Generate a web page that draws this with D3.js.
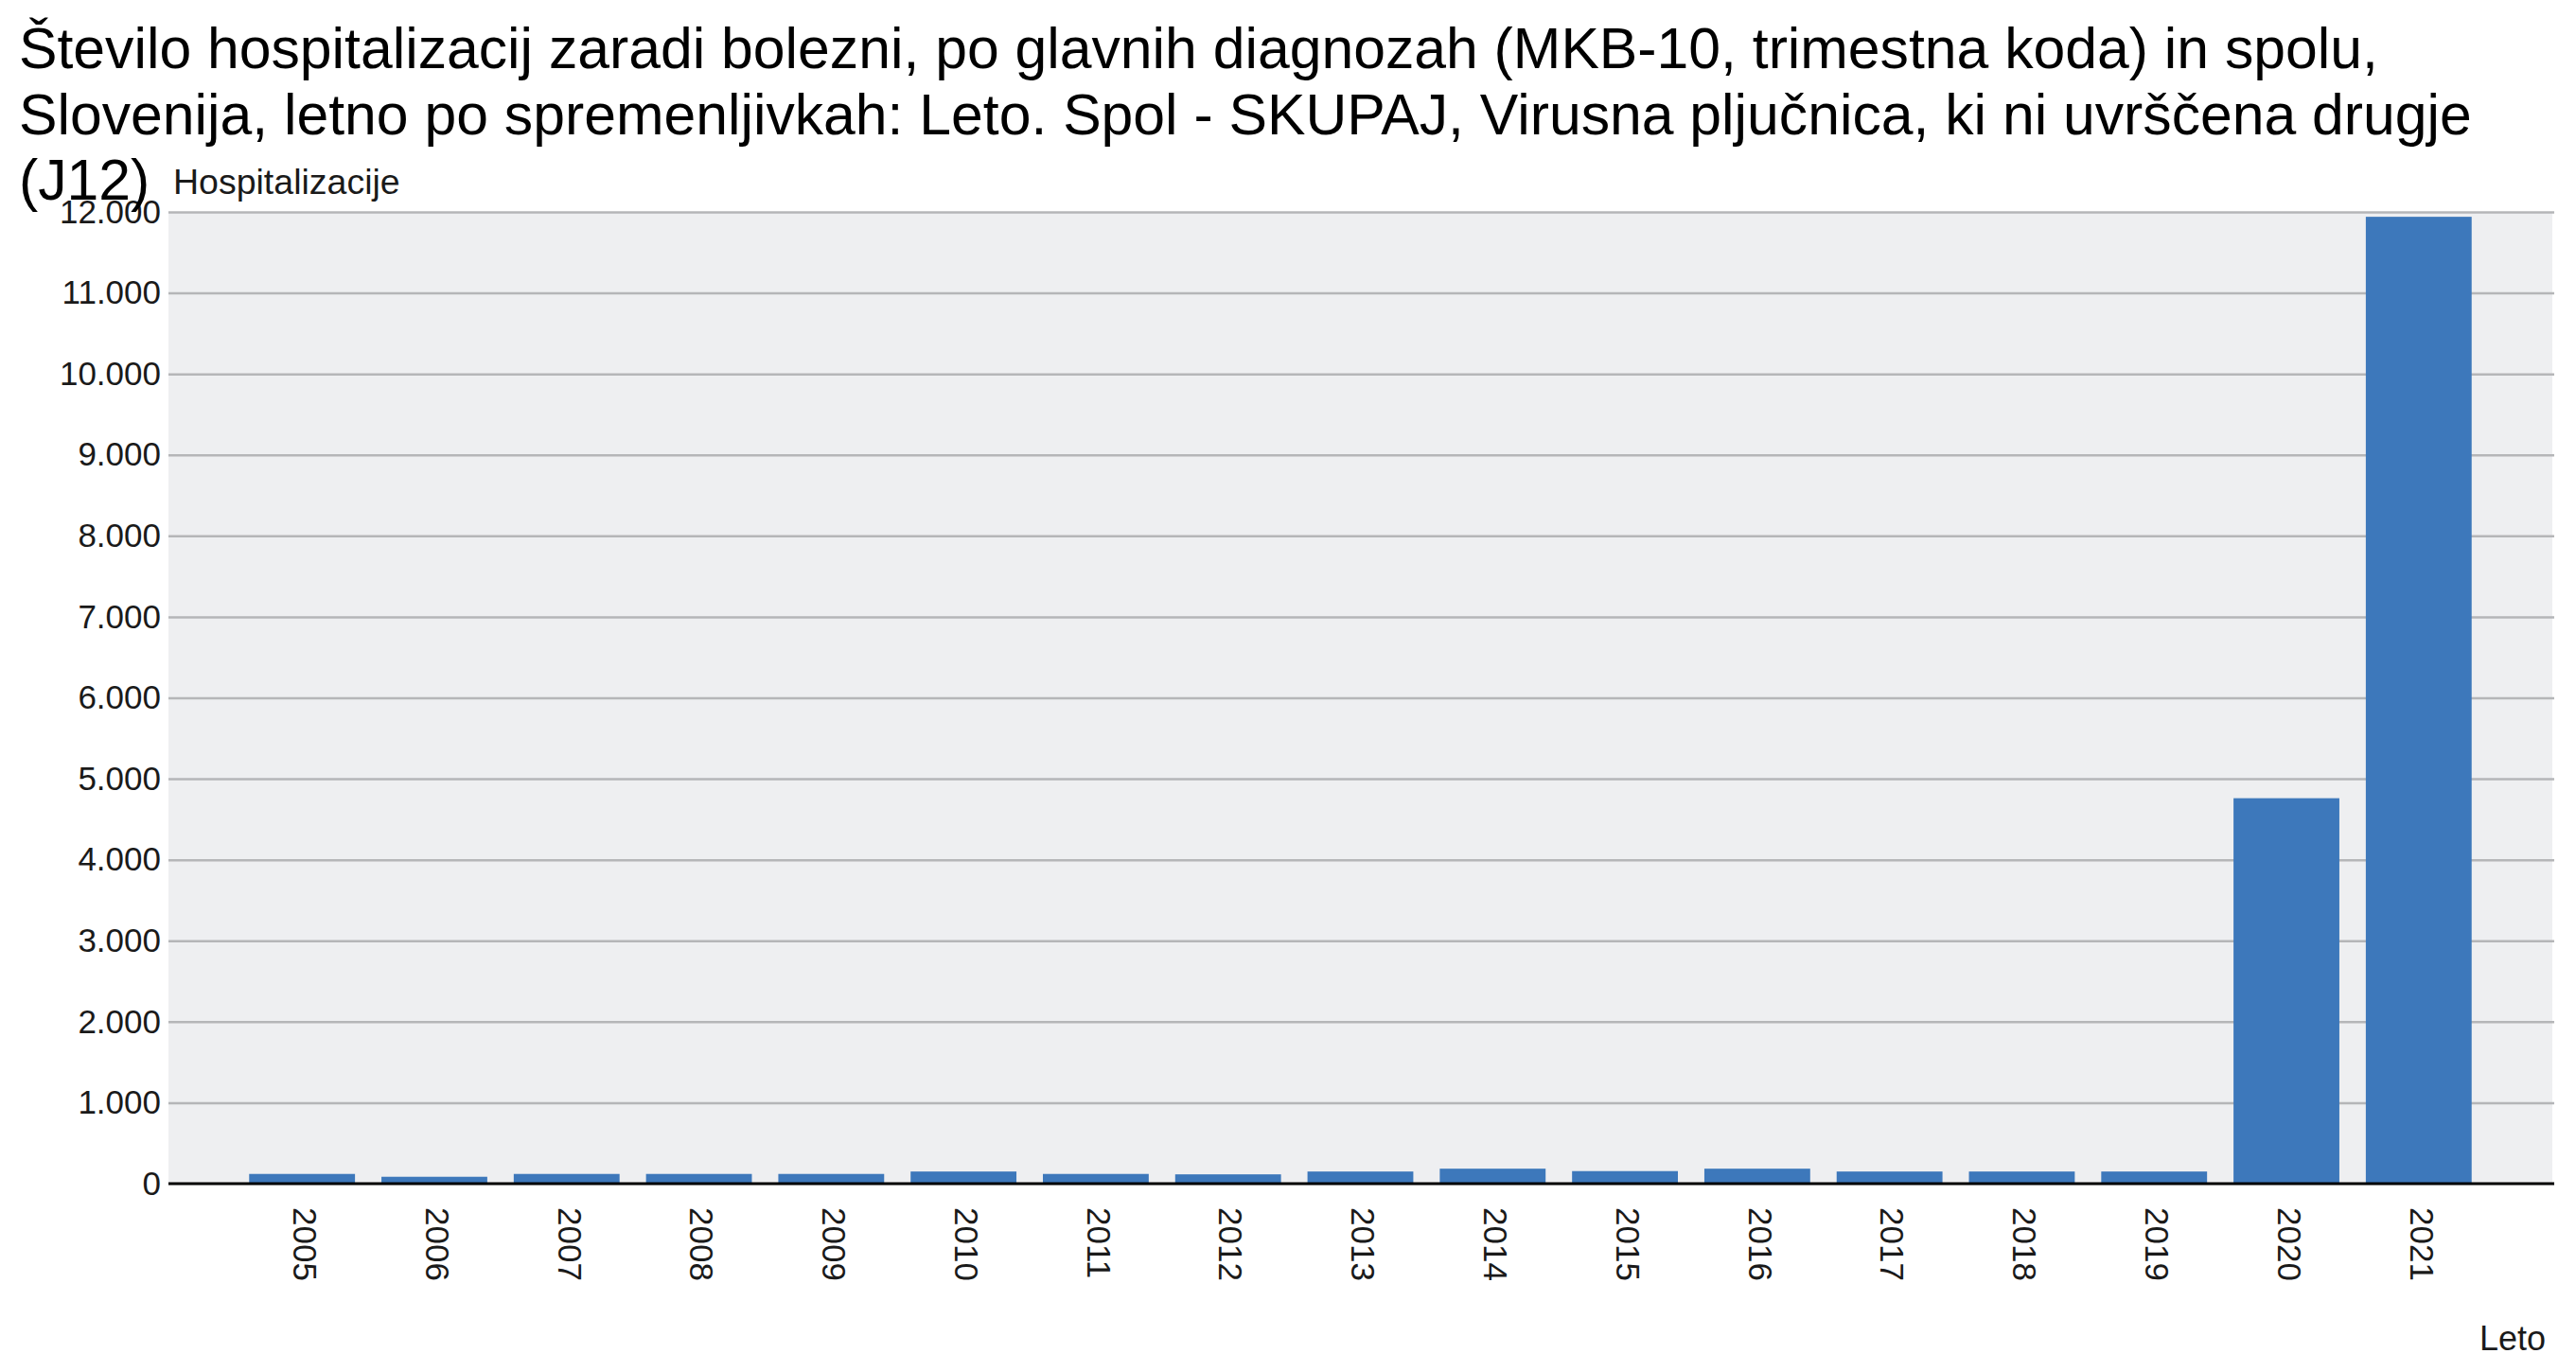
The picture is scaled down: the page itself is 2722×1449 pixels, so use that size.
<!DOCTYPE html>
<html>
<head>
<meta charset="utf-8">
<script src="https://cdn.jsdelivr.net/npm/d3@7"></script>
<style>
  html, body { margin: 0; padding: 0; background: #ffffff; }
  svg { display: block; }
  text { font-family: "Liberation Sans", Arial, sans-serif; }
</style>
</head>
<body>
<svg id="chart" width="2722" height="1449"></svg>
<script>
// ---- Data ----
const years = ["2005","2006","2007","2008","2009","2010","2011","2012","2013","2014","2015","2016","2017","2018","2019","2020","2021"];
const hospitalizations = [120, 85, 120, 120, 120, 150, 120, 115, 150, 185, 155, 185, 150, 150, 150, 4760, 11940];
const yTicks = [0, 1000, 2000, 3000, 4000, 5000, 6000, 7000, 8000, 9000, 10000, 11000, 12000];
const titleLines = [
  "Število hospitalizacij zaradi bolezni, po glavnih diagnozah (MKB-10, trimestna koda) in spolu,",
  "Slovenija, letno po spremenljivkah: Leto. Spol - SKUPAJ, Virusna pljučnica, ki ni uvrščena drugje",
  "(J12)"
];
const yAxisTitle = "Hospitalizacije";
const xAxisTitle = "Leto";

// ---- Layout ----
const plot = { left: 178, right: 2697, top: 224, bottom: 1251 };
const svg = d3.select("#chart");

const x = d3.scaleBand()
  .domain(years)
  .range([plot.left, plot.right])
  .paddingInner(0.2)
  .paddingOuter(0.61);

const y = d3.scaleLinear()
  .domain([0, 12000])
  .range([plot.bottom, plot.top]);

// Thousands separator "."
const fmt = d3.formatLocale({ decimal: ",", thousands: ".", grouping: [3], currency: ["", "€"] }).format(",d");

// Plot background
svg.append("rect")
  .attr("x", plot.left)
  .attr("y", plot.top)
  .attr("width", plot.right - plot.left)
  .attr("height", plot.bottom - plot.top)
  .attr("fill", "#eeeff1");

// Gridlines (via axis)
const grid = svg.append("g")
  .attr("transform", `translate(${plot.left},0)`)
  .call(d3.axisRight(y).tickValues(yTicks.filter(d => d > 0)).tickSize(plot.right + 2 - plot.left).tickFormat(""));
grid.select(".domain").remove();
grid.selectAll(".tick line").attr("stroke", "#b5b6b8").attr("stroke-width", 2.5);

// Y tick labels
const yAxis = svg.append("g")
  .attr("transform", `translate(${plot.left},0)`)
  .call(d3.axisLeft(y).tickValues(yTicks).tickSize(0).tickPadding(8).tickFormat(fmt));
yAxis.select(".domain").remove();
yAxis.selectAll(".tick text")
  .attr("font-size", 35)
  .attr("fill", "#1a1a1a")
  .attr("font-family", "\"Liberation Sans\", Arial, sans-serif");

// Bars
svg.append("g")
  .selectAll("rect")
  .data(years)
  .join("rect")
  .attr("x", (d) => x(d))
  .attr("width", x.bandwidth())
  .attr("y", (d, i) => y(hospitalizations[i]))
  .attr("height", (d, i) => y(0) - y(hospitalizations[i]))
  .attr("fill", "#3d78bb");

// Zero axis line
svg.append("line")
  .attr("x1", plot.left)
  .attr("x2", plot.right + 2)
  .attr("y1", y(0))
  .attr("y2", y(0))
  .attr("stroke", "#000")
  .attr("stroke-width", 3);

// X tick labels (rotated, reading top to bottom)
svg.append("g")
  .selectAll("text")
  .data(years)
  .join("text")
  .attr("transform", d => `translate(${x(d) + x.bandwidth() / 2 + 3},1276) rotate(90)`)
  .attr("dy", "0.35em")
  .attr("text-anchor", "start")
  .attr("font-size", 35)
  .attr("fill", "#1a1a1a")
  .text(d => d);

// Title
svg.append("g")
  .selectAll("text")
  .data(titleLines)
  .join("text")
  .attr("x", 20)
  .attr("y", (d, i) => 72 + i * 69.5)
  .attr("font-size", 60.7)
  .attr("fill", "#000")
  .text(d => d);

// Y axis title
svg.append("text")
  .attr("x", 183)
  .attr("y", 205)
  .attr("font-size", 37.5)
  .attr("fill", "#1a1a1a")
  .text(yAxisTitle);

// X axis title
svg.append("text")
  .attr("x", 2690)
  .attr("y", 1427)
  .attr("text-anchor", "end")
  .attr("font-size", 36)
  .attr("fill", "#1a1a1a")
  .text(xAxisTitle);
</script>
</body>
</html>
